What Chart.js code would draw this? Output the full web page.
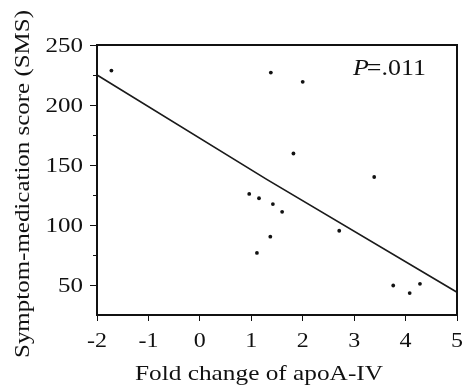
<!DOCTYPE html>
<html>
<head>
<meta charset="utf-8">
<script src="https://cdn.jsdelivr.net/npm/chart.js@4/dist/chart.umd.min.js"></script>
<style>
  html, body { margin: 0; padding: 0; background: #fff; }
  #wrap { width: 467px; height: 387px; }
</style>
</head>
<body>
<div id="wrap"><canvas id="smsChart"></canvas></div>
<script>
// valores
const foldChange = [-1.72, 1.38, 2.0, 1.82, 3.39, 0.96, 1.15, 1.42, 1.60, 2.71, 1.37, 1.11, 3.76, 4.08, 4.28];
const smsScore   = [228.7, 227, 219.3, 159.6, 140, 125.9, 122.3, 117.4, 111, 95.2, 90.3, 76.7, 49.6, 43.3, 51];
const fitX = [-2, 1.3, 5];
const fitY = [225, 138, 44];
const xTicks = [-2, -1, 0, 1, 2, 3, 4, 5];
const yTicks = [50, 100, 150, 200, 250];
const yMinorTicks = [75, 125, 175, 225];
const xTitle = 'Fold change of apoA-IV';
const yTitle = 'Symptom-medication score (SMS)';

const serif = "'Liberation Serif', 'Times New Roman', serif";

const points = foldChange.map((x, i) => ({ x: x, y: smsScore[i] }));
const fitLine = fitX.map((x, i) => ({ x: x, y: fitY[i] }));

// texto esticado na horizontal (a figura original é mais larga)
function stretchedText(ctx, text, x, y, sx, align) {
    ctx.save();
    ctx.translate(x, y);
    ctx.scale(sx, 1);
    ctx.textAlign = align || 'center';
    ctx.fillText(text, 0, 0);
    ctx.restore();
}

// moldura, marcas menores, rótulos, títulos e texto do P
const framePlugin = {
    id: 'frame',
    afterDraw(chart) {
        const ctx = chart.ctx;
        const a = chart.chartArea;
        const xs = chart.scales.x;
        const ys = chart.scales.y;
        ctx.save();
        ctx.strokeStyle = '#111';
        ctx.lineWidth = 2;
        ctx.strokeRect(a.left, a.top, a.right - a.left, a.bottom - a.top);
        ctx.lineWidth = 1;
        yMinorTicks.forEach(v => {
            const py = Math.round(ys.getPixelForValue(v)) + 0.5;
            ctx.beginPath();
            ctx.moveTo(a.left - 4, py);
            ctx.lineTo(a.left, py);
            ctx.stroke();
        });
        ctx.fillStyle = '#111';
        ctx.textBaseline = 'alphabetic';

        // rótulos dos eixos
        ctx.font = '20px ' + serif;
        yTicks.forEach(v => {
            stretchedText(ctx, String(v), a.left - 14, ys.getPixelForValue(v) + 7, 1.25, 'right');
        });
        xTicks.forEach(v => {
            stretchedText(ctx, String(v), xs.getPixelForValue(v), a.bottom + 32, 1.2, 'center');
        });

        // título do eixo x
        ctx.font = '22px ' + serif;
        stretchedText(ctx, xTitle, 259, 380, 248 / ctx.measureText(xTitle).width);

        // título do eixo y
        ctx.save();
        ctx.translate(29, 184);
        ctx.rotate(-Math.PI / 2);
        stretchedText(ctx, yTitle, 0, 0, 348 / ctx.measureText(yTitle).width);
        ctx.restore();

        // P=.011
        const px = a.right - 104;
        const py = a.top + 30;
        ctx.font = 'italic 24px ' + serif;
        const w = ctx.measureText('P').width * 1.08;
        stretchedText(ctx, 'P', px, py, 1.08, 'left');
        ctx.font = '24px ' + serif;
        stretchedText(ctx, '=.011', px + w - 2, py, 1.08, 'left');
        ctx.restore();
    }
};

const config = {
    type: 'scatter',
    data: {
        datasets: [{
            label: 'SMS',
            data: points,
            backgroundColor: '#111',
            borderColor: '#111',
            pointRadius: 1.9,
            pointBorderWidth: 0
        }, {
            type: 'line',
            label: 'fit',
            data: fitLine,
            borderColor: '#1a1a1a',
            borderWidth: 1.7,
            pointRadius: 0,
            fill: false,
            tension: 0
        }]
    },
    options: {
        responsive: true,
        maintainAspectRatio: false,
        animation: false,
        layout: { padding: { top: 45, right: 10, left: 90, bottom: 66 } },
        plugins: {
            legend: { display: false },
            tooltip: { enabled: false }
        },
        scales: {
            x: {
                type: 'linear',
                min: -2,
                max: 5,
                afterBuildTicks: axis => { axis.ticks = xTicks.map(v => ({ value: v })); },
                grid: { drawOnChartArea: false, tickLength: 6, color: '#111', lineWidth: 1 },
                border: { color: '#111', width: 2 },
                ticks: { display: false },
                title: { display: false }
            },
            y: {
                type: 'linear',
                min: 25,
                max: 250,
                afterBuildTicks: axis => { axis.ticks = yTicks.map(v => ({ value: v })); },
                grid: { drawOnChartArea: false, tickLength: 7, color: '#111', lineWidth: 1 },
                border: { color: '#111', width: 2 },
                ticks: { display: false },
                title: { display: false }
            }
        }
    },
    plugins: [framePlugin]
};

window.onload = function() {
    const ctx = document.getElementById('smsChart').getContext('2d');
    new Chart(ctx, config);
};
</script>
</body>
</html>
